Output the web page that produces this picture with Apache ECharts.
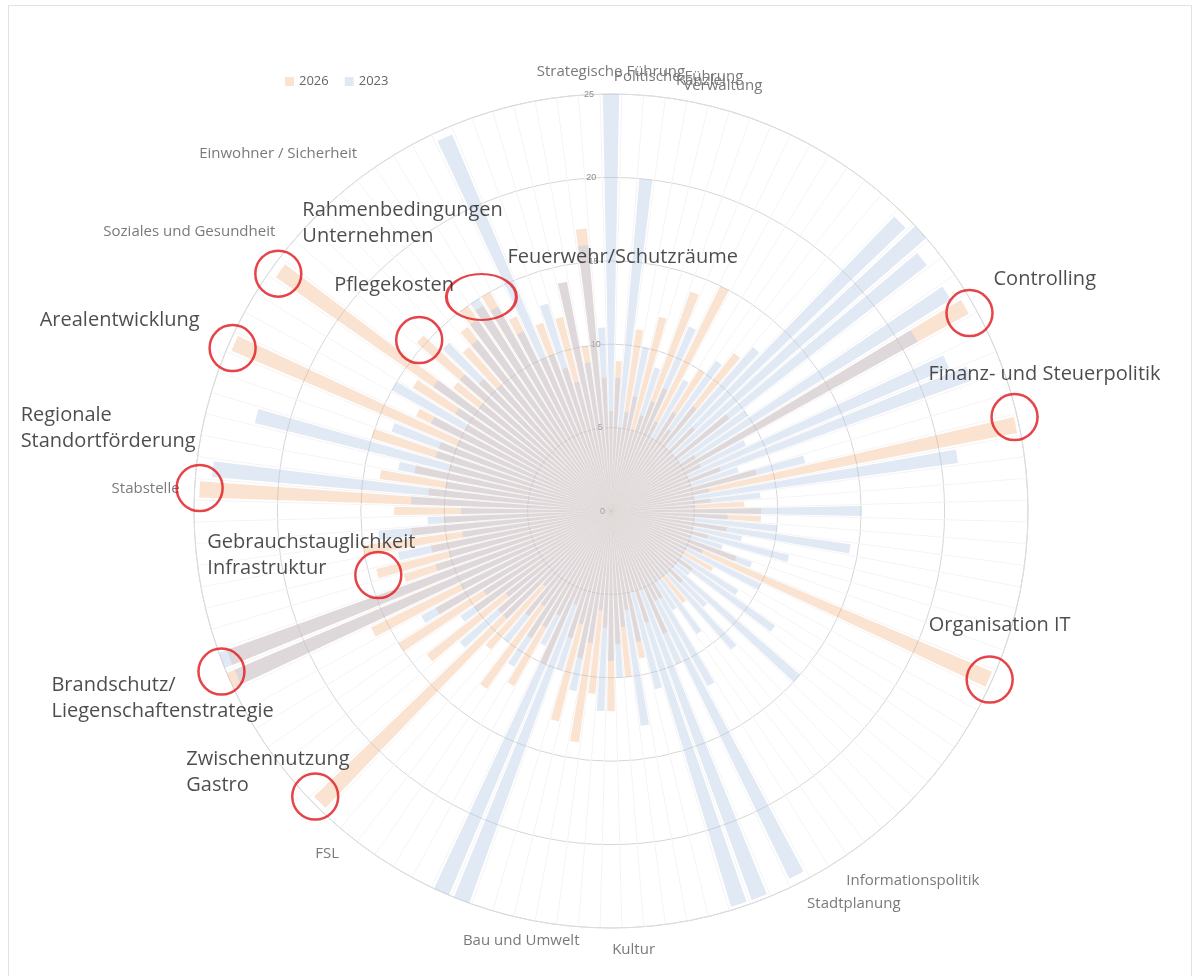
<!DOCTYPE html>
<html>
<head>
<meta charset="utf-8">
<title>Aufgaben 2023 / 2026</title>
<script src="https://cdn.jsdelivr.net/npm/echarts@6/dist/echarts.min.js"></script>
<style>
html,body{margin:0;padding:0;background:#fff;}
#frame{position:absolute;left:8px;top:5px;width:1182px;height:990px;border:1px solid #e2e2e2;}
#main{position:absolute;left:0;top:0;width:1197px;height:976px;}
</style>
</head>
<body>
<div id="frame"></div>
<div id="main"></div>
<script type="text/javascript">
// Gruppen (Beschriftung an der ersten Kategorie der Gruppe)
var groupNames = ['Strategische Führung', 'Politische Führung', 'Kanzlei', 'Verwaltung',
  'Informationspolitik', 'Stadtplanung', 'Kultur', 'Bau und Umwelt', 'FSL',
  'Stabstelle', 'Soziales und Gesundheit', 'Einwohner / Sicherheit'];
var groupStart = [0, 3, 4, 5, 49, 51, 59, 64, 73, 91, 103, 108];
var categoryCount = 120;

var values2026 = [
  6, 9, 5, 11, 7, 12, 6, 14, 8, 15,
  5, 10, 6, 12, 5, 7, 5, 9, 5, 6,
  24.5, 6, 5, 7, 5, 9, 24.8, 5, 6, 8,
  9, 9, 5, 7, 5, 6, 5, 8, 24.8, 5,
  7, 5, 6, 5, 5, 6, 5, 7, 5, 5,
  6, 6, 8, 5, 7, 5, 9, 6, 10, 8,
  12, 7, 11, 14, 9, 13, 8, 6, 10, 7,
  12, 9, 13, 8, 11, 24.7, 9, 14, 10, 15,
  12, 16, 25, 24.5, 13, 14.5, 11, 15, 12, 10,
  13, 24.7, 11, 14, 12, 10, 15, 11, 24.7, 13,
  10, 14, 24.5, 12, 15.4, 11, 13, 14, 15, 14.5,
  15, 13, 10, 12, 9, 12, 14, 10, 17, 8
];
var values2023 = [
  25, 8, 20, 6, 10, 5, 9, 7, 12, 6,
  9, 7, 11, 8, 13, 24.5, 25.3, 24, 10, 24,
  21, 9, 22, 23, 8, 12, 6, 21, 9, 5,
  15, 7, 10, 14.5, 8, 11, 7, 9, 6, 10,
  5, 9, 12, 6, 15, 8, 11, 5, 9, 7,
  12, 24.5, 10, 24.8, 24.8, 11, 8, 13, 7, 10,
  9, 12, 6, 8, 11, 7, 10, 25, 25, 9,
  8, 11, 7, 10, 6, 9, 12, 8, 11, 9,
  13, 10, 24.5, 25, 11, 10, 13, 9, 14, 11,
  9, 12, 24, 10, 13, 22, 11, 14, 10, 12,
  15, 11, 13, 10, 12, 14, 10, 13, 14, 15,
  14, 12, 24.5, 10, 13, 8, 14, 9, 16, 11
];
var seriesNames = ['2026', '2023'];
var radiusMax = 25;
var radiusStep = 5;

// Markierungen: Winkel (Grad, im Uhrzeigersinn ab oben) und Radius
var annoNames = ['Rahmenbedingungen\nUnternehmen', 'Feuerwehr/Schutzräume', 'Pflegekosten',
  'Controlling', 'Arealentwicklung', 'Finanz- und Steuerpolitik', 'Regionale\nStandortförderung',
  'Gebrauchstauglichkeit\nInfrastruktur', 'Organisation IT', 'Brandschutz/\nLiegenschaftenstrategie',
  'Zwischennutzung\nGastro'];
var annoAngle = [305.5, 328.8, 311.7, 61.1, 293.3, 76.9, 273.2, 254.6, 114, 247.6, 226];
var annoRadius = [24.5, 15.0, 15.4, 24.55, 24.7, 24.84, 24.7, 14.47, 24.85, 25.26, 24.65];

// Textposition relativ zum Kreis
var annoLabel = [
  {align: 'left', offset: [24, -50]},
  {align: 'left', offset: [26, -40]},
  {align: 'left', offset: [-85, -55]},
  {align: 'left', offset: [24, -34]},
  {align: 'right', offset: [-33, -28]},
  {align: 'left', offset: [-86, -43]},
  {align: 'left', offset: [-179, -60]},
  {align: 'left', offset: [-171, -20]},
  {align: 'left', offset: [-61, -54]},
  {align: 'left', offset: [-170, 27]},
  {align: 'left', offset: [-129, -24]}
];

var categories = [];
for (var i = 0; i < categoryCount; i++) {
  var g = groupStart.indexOf(i);
  categories.push(g >= 0 ? groupNames[g] : 'k' + i);
}

var annoData = [];
for (var j = 0; j < annoNames.length; j++) {
  annoData.push({
    name: annoNames[j],
    value: [annoRadius[j], annoAngle[j]],
    symbolSize: j === 1 ? [70, 46] : 46,
    label: annoLabel[j]
  });
}

var dom = document.getElementById('main');
var myChart = echarts.init(dom, null, {renderer: 'canvas'});

var option = {
  animation: false,
  color: ['rgba(244,177,131,0.36)', 'rgba(180,199,231,0.4)'],
  legend: {
    data: seriesNames,
    left: 280,
    top: 70,
    icon: 'rect',
    itemWidth: 9,
    itemHeight: 9,
    itemGap: 16,
    textStyle: {color: '#666', fontSize: 13, fontFamily: 'Open Sans'}
  },
  polar: [
    {center: [611, 511], radius: 417},
    {center: [611, 511], radius: 417 * 30 / 25}
  ],
  angleAxis: [
    {
      polarIndex: 0,
      type: 'category',
      data: categories,
      startAngle: 90 + 180 / categoryCount,
      clockwise: true,
      boundaryGap: true,
      axisLine: {lineStyle: {color: '#dcdcdc', width: 1}},
      axisTick: {show: false},
      splitLine: {show: true, lineStyle: {color: '#f4f4f4', width: 1}},
      axisLabel: {
        interval: 0,
        margin: 15,
        color: '#7a7a7a',
        fontSize: 15,
        fontFamily: 'Open Sans',
        formatter: function (v) { return groupNames.indexOf(v) >= 0 ? v : ''; }
      }
    },
    {
      polarIndex: 1,
      type: 'value',
      min: 0,
      max: 360,
      startAngle: 90,
      clockwise: true,
      show: false
    }
  ],
  radiusAxis: [
    {
      polarIndex: 0,
      min: 0,
      max: radiusMax,
      interval: radiusStep,
      axisLine: {show: false},
      axisTick: {show: false},
      splitLine: {show: true, lineStyle: {color: '#d6d6d6', width: 1}},
      axisLabel: {color: '#8c8c8c', fontSize: 9, margin: 6}
    },
    {
      polarIndex: 1,
      min: 0,
      max: 30,
      show: false
    }
  ],
  series: [
    {
      name: seriesNames[0],
      type: 'bar',
      coordinateSystem: 'polar',
      polarIndex: 0,
      data: values2026,
      barGap: '-100%',
      barCategoryGap: '25%'
    },
    {
      name: seriesNames[1],
      type: 'bar',
      coordinateSystem: 'polar',
      polarIndex: 0,
      data: values2023,
      barGap: '-100%',
      barCategoryGap: '25%'
    },
    {
      name: 'Markierung',
      type: 'scatter',
      coordinateSystem: 'polar',
      polarIndex: 1,
      clip: false,
      symbol: 'circle',
      itemStyle: {color: 'rgba(0,0,0,0)', borderColor: '#e0151c', borderWidth: 2.5},
      label: {
        show: true,
        position: 'inside',
        verticalAlign: 'middle',
        formatter: '{b}',
        color: '#1f1f1f',
        fontSize: 20,
        lineHeight: 26,
        fontFamily: 'Open Sans'
      },
      emphasis: {disabled: true},
      data: annoData,
      z: 10
    }
  ]
};

if (option && typeof option === 'object') {
  myChart.setOption(option, true);
}
</script>
</body>
</html>
